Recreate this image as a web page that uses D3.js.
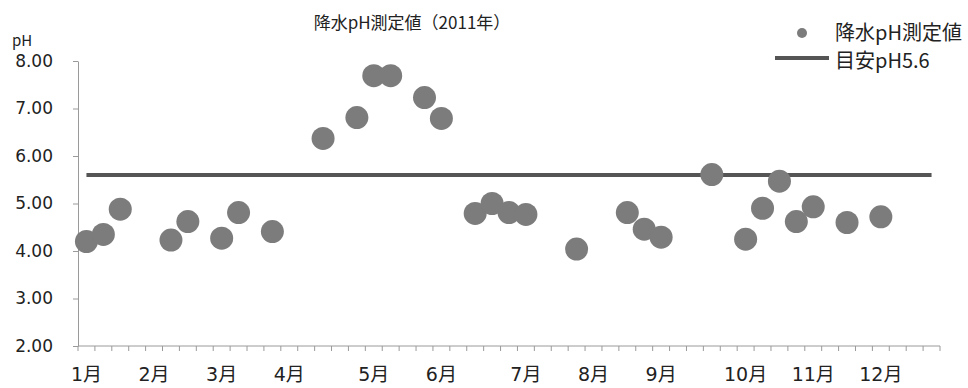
<!DOCTYPE html>
<html>
<head>
<meta charset="utf-8">
<script src="https://cdn.jsdelivr.net/npm/d3@7"></script>
<style>
  html, body { margin: 0; padding: 0; background: #fff; }
  svg { display: block; font-family: "Noto Sans CJK JP", "Noto Sans", sans-serif; }
</style>
</head>
<body>
<svg id="chart" width="968" height="388"></svg>
<script>
// Sampling slots along the year (one slot per collection), labelled at the first slot of each month
const slotCount = 51;
const monthLabels = ["1月", "2月", "3月", "4月", "5月", "6月", "7月", "8月", "9月", "10月", "11月", "12月"];
const monthStartSlots = [0, 4, 8, 12, 17, 21, 26, 30, 34, 39, 43, 47];

// Measured precipitation pH at each sampled slot
const sampleSlots = [0, 1, 2, 5, 6, 8, 9, 11, 14, 16, 17, 18, 20, 21, 23, 24, 25, 26, 29, 32, 33, 34, 37, 39, 40, 41, 42, 43, 45, 47];
const phValues = [4.20, 4.35, 4.88, 4.23, 4.62, 4.27, 4.81, 4.41, 6.37, 6.81, 7.69, 7.69, 7.23, 6.79, 4.79, 5.00, 4.81, 4.77, 4.04, 4.81, 4.46, 4.29, 5.61, 4.25, 4.90, 5.47, 4.62, 4.93, 4.60, 4.72];

// Reference value (guideline pH)
const guidePH = 5.6;

const yTicks = [2, 3, 4, 5, 6, 7, 8];
const seriesName = "降水pH測定値";
const guideName = "目安pH5.6";
const title = "降水pH測定値（2011年）";

(function draw() {
  const svg = d3.select("#chart");
  const plotLeft = 78, plotRight = 940, plotTop = 61, plotBottom = 346;

  const slots = d3.range(slotCount);
  const x = d3.scaleBand().domain(slots).range([plotLeft, plotRight]).padding(0);
  const xc = i => x(i) + x.bandwidth() / 2;
  const y = d3.scaleLinear().domain([2, 8]).range([plotBottom, plotTop]);

  const axisColor = "#9a9a9a";
  const textColor = "#222";
  const mixedFont = "\"DejaVu Sans\", \"Noto Sans CJK JP\", sans-serif";
  const markColor = "#7c7c7c";

  // Title
  svg.append("text")
    .attr("x", 412).attr("y", 29)
    .attr("text-anchor", "middle")
    .attr("font-size", 17)
    .attr("fill", textColor)
    .text(title);

  // Y axis unit
  svg.append("text")
    .attr("x", 12).attr("y", 46)
    .attr("font-size", 15)
    .attr("fill", textColor)
    .text("pH");

  // Y axis
  const yAxis = svg.append("g")
    .attr("transform", `translate(${plotLeft},0)`)
    .call(d3.axisLeft(y).tickValues(yTicks).tickFormat(d3.format(".2f")).tickSizeInner(5).tickSizeOuter(0).tickPadding(20));
  yAxis.select(".domain").attr("stroke", axisColor);
  yAxis.selectAll(".tick line").attr("stroke", axisColor);
  yAxis.selectAll(".tick text")
    .attr("font-size", 17)
    .attr("fill", textColor)
    .attr("font-family", mixedFont);

  // X axis: tick marks between slots, month labels under the first slot of each month
  const xAxisG = svg.append("g").attr("transform", `translate(0,${plotBottom})`);
  xAxisG.append("line")
    .attr("x1", plotLeft).attr("x2", plotRight)
    .attr("stroke", axisColor);
  xAxisG.selectAll("line.tk")
    .data(d3.range(slotCount + 1))
    .join("line")
    .attr("class", "tk")
    .attr("x1", i => i < slotCount ? x(i) : plotRight)
    .attr("x2", i => i < slotCount ? x(i) : plotRight)
    .attr("y1", 0).attr("y2", 5)
    .attr("stroke", axisColor);
  xAxisG.selectAll("text")
    .data(monthStartSlots)
    .join("text")
    .attr("x", s => xc(s))
    .attr("y", 35)
    .attr("text-anchor", "middle")
    .attr("font-size", 19)
    .attr("font-family", mixedFont)
    .attr("fill", textColor)
    .text((s, i) => monthLabels[i]);

  // Guideline series across every slot
  const guideLine = d3.line().x(i => xc(i)).y(() => y(guidePH));
  svg.append("path")
    .attr("d", guideLine(slots))
    .attr("fill", "none")
    .attr("stroke", "#555")
    .attr("stroke-width", 4);

  // Measured points
  const samples = sampleSlots.map((s, i) => ({ slot: s, ph: phValues[i] }));
  svg.append("g").selectAll("circle")
    .data(samples)
    .join("circle")
    .attr("cx", d => xc(d.slot))
    .attr("cy", d => y(d.ph))
    .attr("r", 11.5)
    .attr("fill", markColor);

  // Legend
  const lg = svg.append("g");
  lg.append("circle").attr("cx", 802).attr("cy", 33).attr("r", 5).attr("fill", markColor);
  lg.append("text").attr("x", 835).attr("y", 40).attr("font-size", 20).attr("fill", textColor).text(seriesName);
  lg.append("line").attr("x1", 775).attr("x2", 829).attr("y1", 58).attr("y2", 58)
    .attr("stroke", "#555").attr("stroke-width", 4);
  lg.append("text").attr("x", 835).attr("y", 68).attr("font-size", 20).attr("fill", textColor).text(guideName);
})();
</script>
</body>
</html>
